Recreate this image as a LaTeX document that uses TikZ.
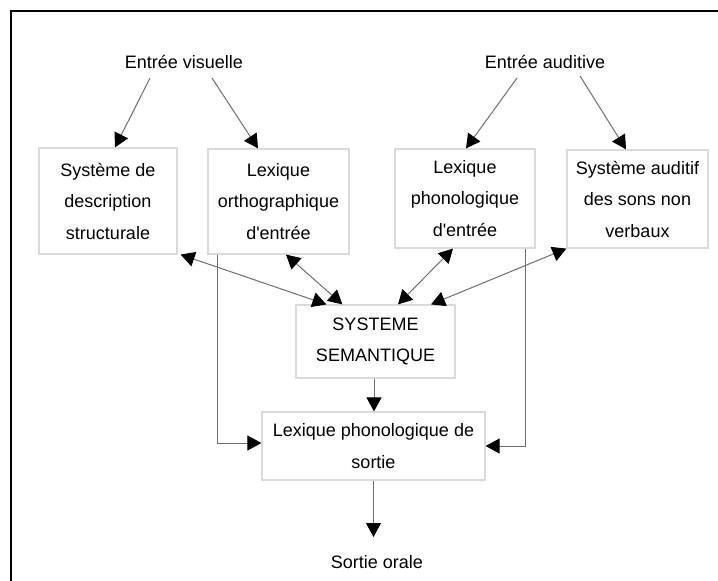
\documentclass[tikz,border=0pt]{standalone}
\usepackage{fontspec}
\setmainfont{Liberation Sans}
\usetikzlibrary{arrows.meta}
\definecolor{boxgray}{HTML}{DADADA}
\definecolor{linegray}{HTML}{6E6E6E}
\begin{document}
\begin{tikzpicture}[x=1pt,y=-1pt,
  font=\fontsize{18}{31.5}\selectfont,
  box/.style={draw=boxgray, line width=1.2pt, align=center, inner sep=0pt},
  lbl/.style={inner sep=0pt, align=center},
  arr/.style={draw=linegray, line width=1pt, -{Triangle[length=14pt,width=15pt,color=black]}},
  darr/.style={draw=linegray, line width=1pt, {Triangle[length=14pt,width=15pt,color=black]}-{Triangle[length=14pt,width=15pt,color=black]}}]
\useasboundingbox (0,0) rectangle (718,581);
\draw[line width=2pt] (11,581) -- (11,11) -- (718,11);

\node[lbl] (ev) at (184,62) {Entrée visuelle};
\node[lbl] (ea) at (545,62) {Entrée auditive};

\node[box, minimum width=138, minimum height=106] (b1) at (108,201) {Système de\\description\\structurale};
\node[box, minimum width=141, minimum height=105] (b2) at (278.5,201.5) {Lexique\\orthographique\\d\textquotesingle entrée};
\node[box, minimum width=140, minimum height=99] (b3) at (465,198.5) {Lexique\\phonologique\\d\textquotesingle entrée};
\node[box, minimum width=141, minimum height=98] (b4) at (637.5,199) {Système auditif\\des sons non\\verbaux};
\node[box, minimum width=159, minimum height=73] (sem) at (375.5,341.5) {SYSTEME\\SEMANTIQUE};
\node[box, minimum width=223, minimum height=68] (lps) at (373.5,446) {Lexique phonologique de\\sortie};
\node[lbl] (so) at (377,562) {Sortie orale};

\draw[arr] ([shift={(-34,16)}]ev.center) -- ([xshift=7pt]b1.north);
\draw[arr] ([shift={(28,16)}]ev.center) -- ([xshift=-20.5pt]b2.north);
\draw[arr] ([shift={(-28,16)}]ea.center) -- ([xshift=1pt]b3.north);
\draw[arr] ([shift={(35,14)}]ea.center) -- ([xshift=-11.5pt]b4.north);

\draw[darr] ([xshift=3pt]b1.south east) -- ([xshift=31pt]sem.north west);
\draw[darr] ([xshift=7.5pt]b2.south) -- ([xshift=47pt]sem.north west);
\draw[darr] ([xshift=-12pt]b3.south) -- ([xshift=22.5pt]sem.north);
\draw[darr] (b4.south west) -- ([xshift=55.5pt]sem.north);

\draw[arr] ([xshift=10pt]b2.south west) |- ([shift={(0,-3)}]lps.west);
\draw[arr] ([xshift=-10pt]b3.south east) |- (lps.east);
\draw[arr] ([xshift=-1.5pt]sem.south) -- ([xshift=-1.5pt]sem.south |- lps.north);
\draw[arr] (lps.south) -- ([shift={(-3.5,-25)}]so.center |- so.center);
\end{tikzpicture}
\end{document}
